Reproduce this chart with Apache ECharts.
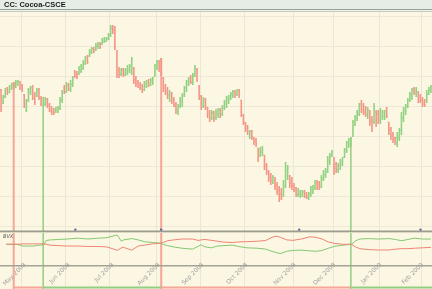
<!DOCTYPE html>
<html><head><meta charset="utf-8">
<script src="https://cdn.jsdelivr.net/npm/echarts@6/dist/echarts.min.js"></script>
<style>html,body{margin:0;padding:0;background:#fbf7e3}#c{width:432px;height:289px}</style>
</head><body><div id="c"></div>
<script>
// ---------- DATA ----------
const chartTitle = 'CC: Cocoa-CSCE';
const indicatorName = 'BVX';
const monthLabels = ['Apr 2008','May 2008','Jun 2008','Jul 2008','Aug 2008','Sep 2008','Oct 2008','Nov 2008','Dec 2008','Jan 2009','Feb 2009'];
const tradingDays = [10,21,21,22,21,21,23,19,22,20,5];
// [open, close, low, high]
const ohlc = [
[2860,2680,2640,2870],[2730,2800,2720,2810],[2790,2860,2780,2880],[2880,2830,2810,2890],[2840,2890,2830,2910],
[2870,2920,2860,2930],[2920,2880,2870,2940],[2890,2940,2880,2960],[2920,2950,2900,2960],[2940,2880,2860,2950],
[2900,2860,2840,2920],[2810,2710,2680,2820],[2660,2750,2640,2770],[2760,2860,2740,2880],[2840,2890,2810,2900],
[2880,2780,2760,2910],[2810,2740,2710,2840],[2800,2860,2790,2880],[2860,2790,2760,2880],[2780,2720,2700,2800],
[2700,2760,2680,2790],[2720,2770,2700,2790],[2760,2700,2680,2780],[2710,2660,2640,2730],[2680,2640,2610,2700],
[2660,2630,2610,2680],[2640,2680,2630,2690],[2650,2680,2630,2700],[2680,2760,2660,2790],[2760,2840,2730,2860],
[2880,2840,2820,2910],[2840,2900,2830,2940],[2910,2870,2850,2930],[2860,2920,2840,2960],[2910,2960,2890,3000],
[3040,3000,2980,3060],[3020,2990,2970,3050],[3020,3070,3010,3100],[3050,3100,3030,3120],[3080,3130,3060,3160],
[3130,3180,3110,3200],[3180,3140,3120,3210],[3200,3240,3190,3270],[3230,3270,3220,3290],[3270,3240,3230,3290],
[3260,3300,3250,3330],[3290,3320,3270,3340],[3320,3290,3270,3340],[3320,3360,3310,3380],[3340,3370,3330,3390],
[3350,3380,3340,3390],[3370,3410,3360,3430],[3410,3480,3390,3510],[3490,3460,3420,3510],[3480,3280,3260,3500],
[3240,3020,2980,3260],[3060,3010,2980,3090],[3020,3060,3000,3080],[3060,3020,2990,3080],[3020,3060,3000,3080],
[3040,3080,3010,3110],[3060,3100,3030,3120],[3040,3160,3010,3190],[3080,2960,2920,3090],[2980,2920,2890,3000],
[2940,2900,2880,2960],[2920,2880,2860,2940],[2900,2860,2830,2920],[2860,2920,2850,2950],[2900,2940,2880,2960],
[2940,2910,2890,2970],[2920,2960,2900,2980],[2940,2980,2910,2990],[3000,3100,2990,3120],[3080,3140,3060,3160],
[3140,3080,3040,3160],[3160,3020,3000,3180],[2980,2880,2840,2990],[2900,2840,2810,2920],[2860,2810,2770,2890],
[2780,2830,2740,2860],[2820,2760,2720,2840],[2760,2710,2690,2790],[2720,2660,2620,2740],[2640,2700,2610,2720],
[2700,2760,2680,2790],[2740,2800,2690,2830],[2810,2880,2790,2900],[2880,2940,2840,2960],[2920,2960,2900,2990],
[2980,2940,2920,3010],[2940,3000,2910,3030],[3000,3080,2990,3110],[3060,2960,2940,3080],[2900,2800,2760,2910],
[2800,2720,2660,2810],[2700,2760,2680,2790],[2760,2700,2660,2780],[2680,2620,2580,2690],[2640,2580,2540,2660],
[2580,2630,2560,2660],[2630,2580,2540,2650],[2590,2640,2560,2670],[2620,2660,2580,2680],[2660,2610,2580,2680],
[2620,2680,2600,2710],[2680,2730,2660,2760],[2720,2770,2680,2800],[2760,2800,2720,2810],[2780,2820,2760,2840],
[2800,2840,2780,2860],[2840,2810,2780,2860],[2820,2850,2800,2870],[2850,2810,2780,2870],[2760,2640,2590,2760],
[2610,2540,2510,2620],[2530,2480,2440,2540],[2500,2440,2410,2510],[2400,2450,2370,2460],[2440,2390,2360,2460],
[2380,2340,2310,2390],[2360,2320,2290,2380],[2280,2180,2140,2280],[2210,2260,2190,2290],[2240,2270,2200,2300],
[2210,2100,2060,2210],[2110,2040,2010,2130],[2040,1980,1940,2060],[2000,1960,1910,2030],[1940,1990,1920,2010],
[1960,1900,1860,1990],[1910,1840,1810,1940],[1860,1790,1740,1900],[1820,1780,1760,1880],[1810,1900,1790,1960],
[1900,2060,1880,2140],[2000,2080,1960,2110],[2000,1930,1880,2010],[1960,1900,1860,1990],[1900,1860,1840,1930],
[1880,1820,1790,1890],[1810,1860,1790,1880],[1820,1850,1780,1860],[1810,1840,1790,1860],[1840,1800,1780,1860],
[1820,1790,1770,1840],[1780,1820,1760,1840],[1820,1880,1790,1900],[1860,1900,1820,1910],[1880,1930,1860,1960],
[1940,1890,1860,1960],[1920,1880,1860,1950],[1900,1980,1880,2010],[1970,2020,1950,2060],[2010,2060,1980,2080],
[2040,2160,2030,2200],[2140,2200,2110,2230],[2200,2240,2190,2260],[2180,2080,2010,2190],[2120,2060,2030,2140],
[2060,2110,2030,2130],[2100,2150,2060,2170],[2130,2180,2100,2190],[2190,2260,2180,2280],[2260,2330,2230,2350],
[2310,2360,2280,2380],[2330,2370,2290,2390],[2410,2540,2390,2560],[2520,2590,2500,2610],[2580,2630,2550,2660],
[2620,2700,2600,2730],[2720,2660,2630,2760],[2700,2640,2610,2730],[2660,2620,2590,2700],[2600,2660,2570,2690],
[2640,2540,2500,2660],[2560,2480,2440,2600],[2540,2680,2520,2730],[2640,2580,2490,2660],[2620,2560,2520,2660],
[2560,2640,2520,2680],[2600,2640,2560,2660],[2600,2650,2560,2660],[2660,2600,2580,2690],[2540,2460,2410,2540],
[2480,2400,2360,2490],[2420,2360,2330,2440],[2380,2340,2310,2390],[2320,2400,2290,2440],[2380,2460,2350,2480],
[2460,2580,2410,2640],[2580,2660,2540,2690],[2640,2700,2610,2720],[2700,2760,2680,2780],[2760,2820,2740,2840],
[2800,2860,2760,2880],[2870,2840,2810,2890],[2830,2870,2790,2890],[2840,2780,2730,2850],[2800,2760,2730,2820],
[2760,2720,2690,2790],[2740,2710,2690,2770],[2740,2820,2730,2860],[2820,2860,2810,2890],[2860,2890,2830,2910]
];
// indicator lines: [bar index, value]
const dviGreen = [[1,20],[6,20],[9,18],[14,18],[17,19],[19,19.5],[20,24.3],[22,25],[26,25.5],[30,26],[35,27],[40,26],[45,27],[49,27.5],[53,30],[54,30.5],[56,23.5],[57,25],[61,26.5],[64,25],[67,23],[71,22],[74,21.5],[76,20],[78,18.5],[81,17],[85,15.5],[90,14.5],[93,18],[94,19.5],[96,17],[99,16],[102,18],[105,18.5],[109,19],[112,17.5],[116,16],[121,15.5],[125,14.5],[128,12],[132,9.3],[135,12],[138,13],[142,13.3],[146,12.5],[149,12],[152,13],[155,15.5],[158,17.7],[162,19],[166,20],[168,24],[170,26],[174,26.5],[179,26],[184,26.5],[187,25.5],[190,24],[193,25.5],[196,27],[200,26],[204,26]];
const dviRed = [[1,20],[6,20],[9,20.5],[14,20.5],[17,20.5],[19,20.5],[20,20],[22,19],[26,18.5],[30,18],[35,18],[40,17.5],[45,17.5],[49,17],[53,14],[54,13],[56,16],[57,16.5],[61,13.3],[64,18],[67,19],[71,20.5],[74,21],[76,22],[78,24],[81,25],[85,26],[90,26],[93,24.3],[94,25],[96,25.5],[99,24.5],[102,23.5],[105,22.5],[109,22],[112,22.7],[116,23],[121,23.5],[125,24.3],[128,28],[130,29.3],[132,28],[135,25],[138,24.5],[142,26],[146,28.5],[149,28],[152,26],[155,22.5],[158,21],[162,20],[166,20],[168,17],[170,15],[174,14],[179,13.5],[184,13.5],[187,14.5],[190,15],[193,15],[196,15.5],[200,16],[204,16.5]];
const signalIndex = [6, 20, 76, 166];
const signalType = ['sell','buy','sell','buy'];
const signalPrice = [2940, 2680, 3180, 2390];
const markerIndex = [34, 75, 141, 199];
const markerValue = 36.5;

// ---------- BUILD ----------
const categories = [];
const monthStart = new Set();
const monthName = {};
monthLabels.forEach((m, mi) => {
  for (let d = 0; d < tradingDays[mi]; d++) {
    if (d === 0 && mi > 0) { monthStart.add(categories.length); monthName[categories.length] = m; }
    categories.push(m + '#' + (d + 1));
  }
});
const GREEN = '#92d282', RED = '#f49686';
const LGREEN = '#84c872', LRED = '#f08474';
const SIG_GREEN = '#93cf80', SIG_RED = '#f5a696';
const barData = ohlc.map((r, i) => [i, r[0], r[1], r[2], r[3]]);
const sigData = signalIndex.map((ix, k) => [ix, signalPrice[k], signalType[k] === 'buy' ? 1 : 0]);
const stripData = signalIndex.map((ix, k) => [ix, k + 1 < signalIndex.length ? signalIndex[k + 1] : categories.length, signalType[k] === 'buy' ? 1 : 0]);

const chart = echarts.init(document.getElementById('c'), null, {renderer: 'canvas'});
chart.setOption({
  animation: false,
  backgroundColor: '#fbf7e3',
  grid: [
    {left: 0, right: 0, top: 16, height: 210},
    {left: 0, right: 0, top: 232, height: 34},
    {left: 0, right: 0, top: 12, bottom: 0}
  ],
  xAxis: [
    {type: 'category', gridIndex: 0, data: categories, axisLine: {show: false}, axisTick: {show: false}, axisLabel: {show: false}, splitLine: {show: false}},
    {type: 'category', gridIndex: 1, data: categories, axisLine: {show: false}, axisTick: {show: false}, splitLine: {show: false},
      axisLabel: {show: true, rotate: 45, margin: 2, fontSize: 6, color: '#a0a0a0', fontFamily: 'DejaVu Sans',
        interval: (idx) => monthStart.has(idx), formatter: (v, idx) => monthName[idx] || ''}},
    {type: 'category', gridIndex: 2, data: categories, axisLine: {show: false}, axisTick: {show: false}, axisLabel: {show: false},
      splitLine: {show: true, interval: (idx) => monthStart.has(idx), lineStyle: {color: '#ede6d8', width: 1}}}
  ],
  yAxis: [
    {type: 'value', gridIndex: 0, min: 1500, max: 3600, interval: 300, axisLine: {show: false}, axisTick: {show: false}, axisLabel: {show: false},
      splitLine: {show: true, lineStyle: {color: '#efe8d8', width: 1}}},
    {type: 'value', gridIndex: 1, min: 0, max: 34, show: false, splitLine: {show: false}},
    {type: 'value', gridIndex: 2, show: false, splitLine: {show: false}}
  ],
  series: [
    {type: 'custom', xAxisIndex: 0, yAxisIndex: 0, data: sigData, clip: false, z: 1,
      renderItem: (params, api) => {
        const p = api.coord([api.value(0), api.value(1)]);
        const buy = api.value(2) === 1;
        return {type: 'line', shape: {x1: p[0], y1: p[1], x2: p[0], y2: api.getHeight()},
          style: {stroke: buy ? SIG_GREEN : SIG_RED, lineWidth: buy ? 1.5 : 2}};
      }},
    {type: 'custom', xAxisIndex: 0, yAxisIndex: 0, data: stripData, clip: false, z: 1,
      renderItem: (params, api) => {
        const x1 = api.coord([api.value(0), 2000])[0];
        const e = api.value(1);
        const x2 = e >= categories.length ? api.getWidth() : api.coord([e, 2000])[0];
        const y = api.getHeight() - 1.5;
        return {type: 'line', shape: {x1: x1, y1: y, x2: x2, y2: y},
          style: {stroke: api.value(2) === 1 ? SIG_GREEN : SIG_RED, lineWidth: 2}};
      }},
    {type: 'custom', xAxisIndex: 0, yAxisIndex: 0, data: barData, z: 3,
      encode: {x: 0, y: [1, 2, 3, 4]},
      renderItem: (params, api) => {
        const i = api.value(0), o = api.value(1), c = api.value(2), l = api.value(3), h = api.value(4);
        const ph = api.coord([i, h]), pl = api.coord([i, l]), po = api.coord([i, o]), pc = api.coord([i, c]);
        const col = c >= o ? GREEN : RED;
        return {type: 'group', children: [
          {type: 'line', shape: {x1: ph[0], y1: ph[1], x2: pl[0], y2: pl[1]}, style: {stroke: col, lineWidth: 1.6}},
          {type: 'line', shape: {x1: po[0] - 1, y1: po[1], x2: po[0], y2: po[1]}, style: {stroke: col, lineWidth: 1}},
          {type: 'line', shape: {x1: pc[0], y1: pc[1], x2: pc[0] + 1, y2: pc[1]}, style: {stroke: col, lineWidth: 1}}
        ]};
      }},
    {type: 'line', xAxisIndex: 1, yAxisIndex: 1, data: dviGreen, showSymbol: false, z: 4,
      lineStyle: {color: LGREEN, width: 1}},
    {type: 'line', xAxisIndex: 1, yAxisIndex: 1, data: dviRed, showSymbol: false, z: 4,
      lineStyle: {color: LRED, width: 1}},
    {type: 'scatter', xAxisIndex: 1, yAxisIndex: 1, clip: false, z: 5, symbolSize: 2.5,
      data: markerIndex.map(ix => [ix, markerValue]), itemStyle: {color: '#3c4aa0'}}
  ],
  graphic: [
    {type: 'rect', left: 0, top: 0, z: 10, shape: {width: 432, height: 9}, style: {fill: '#e6ece6'}},
    {type: 'rect', left: 0, top: 9, z: 10, shape: {width: 432, height: 1}, style: {fill: '#97a097'}},
    {type: 'rect', left: 0, top: 10, z: 10, shape: {width: 432, height: 1}, style: {fill: '#eef2ec'}},
    {type: 'rect', left: 0, top: 11, z: 10, shape: {width: 432, height: 1}, style: {fill: '#c4c9bf'}},
    {type: 'text', left: 4, top: 1, z: 11, style: {text: chartTitle, font: 'bold 7.5px "Liberation Sans", Arial, sans-serif', fill: '#1a1a1a'}},
    {type: 'rect', left: 0, top: 230.5, z: 10, shape: {width: 432, height: 1.5}, style: {fill: '#9c9c8e'}},
    {type: 'rect', left: 0, top: 232, z: 10, shape: {width: 432, height: 1}, style: {fill: '#ddd8c4'}},
    {type: 'rect', left: 0, top: 265, z: 10, shape: {width: 432, height: 1.5}, style: {fill: '#a4a496'}},
    {type: 'text', left: 3, top: 234, z: 11, style: {text: indicatorName, font: 'italic 5px "DejaVu Sans", sans-serif', fill: '#555'}}
  ]
});
</script></body></html>
